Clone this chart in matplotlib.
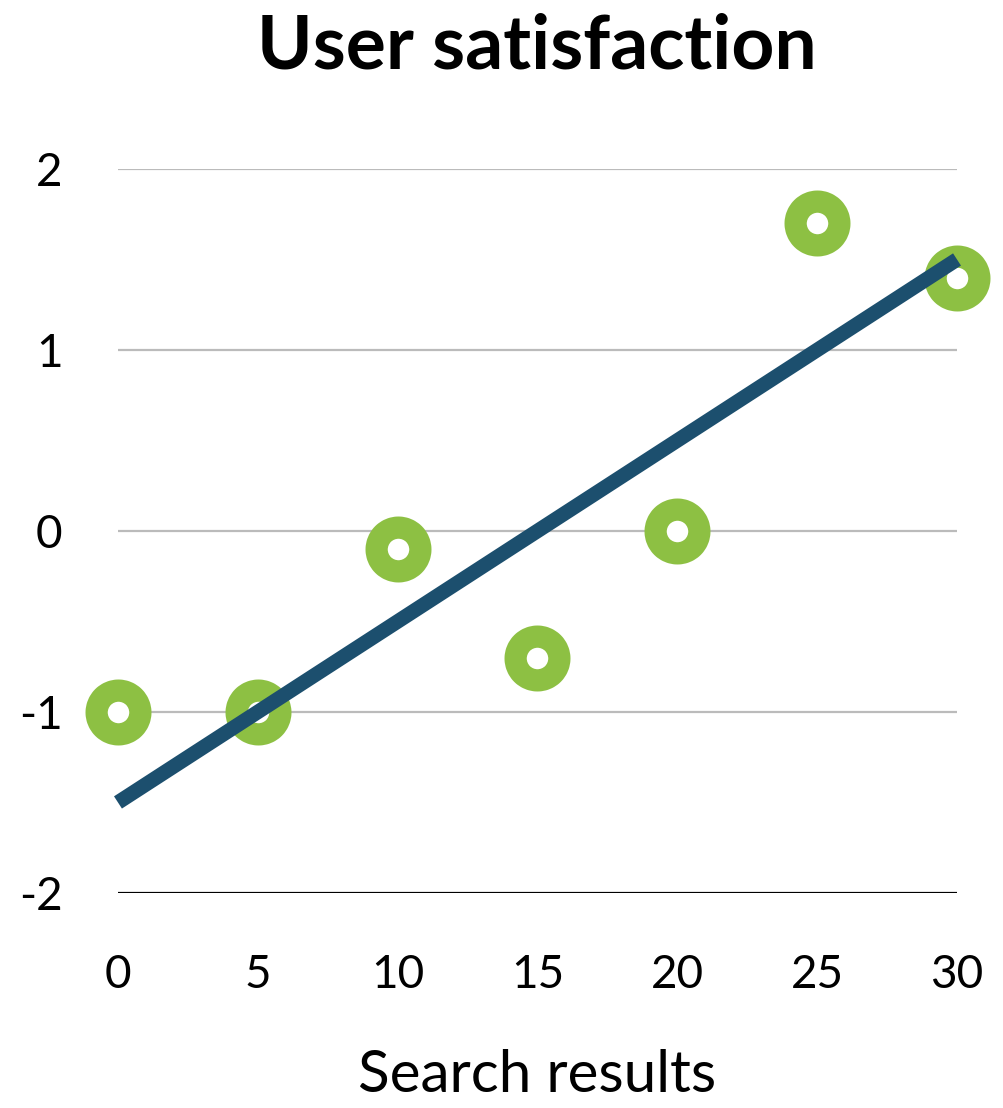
import matplotlib.pyplot as plt

# survey results
search_results = [0, 5, 10, 15, 20, 25, 30]
satisfaction = [-1.0, -1.0, -0.1, -0.7, 0.0, 1.7, 1.4]

# trend line end points
trend_x = [0, 30]
trend_y = [-1.5, 1.5]

x_ticks = [0, 5, 10, 15, 20, 25, 30]
y_ticks = [-2, -1, 0, 1, 2]

GREEN = '#8dc043'
NAVY = '#1c4f6e'

plt.rcParams['font.family'] = ['Lato', 'DejaVu Sans']
plt.rcParams['axes.unicode_minus'] = False

fig = plt.figure(figsize=(10.04, 11.08), dpi=100)
ax = fig.add_axes([0.1175, 0.1941, 0.8357, 0.6534])

for y in y_ticks:
    color = 'black' if y == y_ticks[0] else '#bbbbbb'
    ax.axhline(y, color=color, lw=1.6, zorder=1)

ax.plot(search_results, satisfaction, 'o', ms=31.5, mew=16,
        mfc='white', mec=GREEN, clip_on=False, zorder=2)
ax.plot(trend_x, trend_y, color=NAVY, lw=10.5,
        solid_capstyle='butt', clip_on=False, zorder=3)

ax.set_xlim(0, 30)
ax.set_ylim(-2, 2)
ax.set_xticks(x_ticks)
ax.set_yticks(y_ticks)
ax.tick_params(length=0, labelsize=33)
ax.tick_params(axis='x', pad=44)
ax.tick_params(axis='y', pad=40)
for s in ax.spines.values():
    s.set_visible(False)

ax.set_xlabel('Search results', fontsize=42, labelpad=38)
fig.text(0.535, 0.958, 'User satisfaction', fontsize=54,
         fontweight='bold', ha='center', va='center')

fig.savefig('out.png', dpi=100)
